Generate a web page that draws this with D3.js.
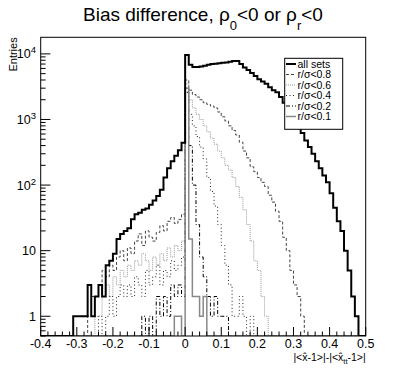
<!doctype html>
<html lang="en">
<head>
<meta charset="utf-8">
<title>Bias difference</title>
<style>
  body { margin: 0; background: #fff; }
  svg { display: block; font-family: "Liberation Sans", Arial, sans-serif; }
</style>
</head>
<body>
<div id="chart"></div>
<script src="https://cdn.jsdelivr.net/npm/d3@7/dist/d3.min.js"></script>
<script>
// 90 bins of width 0.01, first bin starts at -0.40
var binLow = -0.4;
var binWidth = 0.01;

var allSets = [0,0,0,0,0,0,0,0,0,
  1,1,1,1,3,1,2,3,2,6,7,9,15,18,20,22,30,36,38,42,44,50,58,68,85,130,180,230,280,340,440,
  9600,6800,6300,6300,6400,6600,6800,7000,7100,7200,7300,7400,7600,7800,7800,7000,6200,5700,5100,4600,
  4100,3800,3500,3100,2800,2600,2200,1800,1500,1200,950,750,620,480,380,300,230,180,140,110,
  75,45,28,20,10,5,2,1,0,0];

var r08 = [0,0,0,0,0,0,0,0,0,0,0,0,0,
  1,2,2,3,5,4,6,5,8,10,7,11,9,14,18,12,20,16,14,19,24,20,28,32,26,30,36,
  4000,2800,2400,2200,2000,1800,1700,1600,1500,1300,1100,950,800,680,580,450,330,260,190,160,
  130,110,95,70,55,40,28,16,10,5,3,2,1,
  0,0,0,0,0,0,0,0,0,0,0,0,0,0,0,0,0];

var r06 = [0,0,0,0,0,0,0,0,0,0,0,0,0,0,0,
  1,1,2,3,2,4,3,5,4,6,5,7,6,9,7,5,8,6,9,7,11,8,12,10,14,
  3500,2000,1500,1200,1000,800,650,520,420,330,260,200,170,130,95,65,42,25,14,7,5,2,1,
  0,0,0,0,0,0,0,0,0,0,0,0,0,0,0,0,0,0,0,0,0,0,0,0,0,0,0];

var r04 = [0,0,0,0,0,0,0,0,0,0,0,0,0,0,0,0,
  1,0,1,2,1,2,3,2,3,2,4,3,2,5,3,4,6,3,5,4,7,5,6,8,
  3000,1200,800,550,380,250,130,80,48,25,12,6,3,1,1,2,1,0,1,
  0,0,0,0,0,0,0,0,0,0,0,0,0,0,0,0,0,0,0,0,0,0,0,0,0,0,0,0,0,0,0];

var r02 = [0,0,0,0,0,0,0,0,0,0,0,0,0,0,0,0,0,0,0,0,0,0,0,0,0,0,0,0,
  1,0,1,0,2,1,2,1,3,2,3,2,
  2600,400,100,25,8,4,2,1,2,1,1,1,
  0,0,0,0,0,0,0,0,0,0,0,0,0,0,0,0,0,0,0,0,0,0,0,0,0,0,0,0,0,0,0,0,0,0,0,0,0,0];

var r01 = [0,0,0,0,0,0,0,0,0,0,0,0,0,0,0,0,0,0,0,0,0,0,0,0,0,0,0,0,0,0,0,0,0,0,0,0,0,
  1,1,0,3000,15,2,2,1,2,
  0,0,0,0,0,0,0,0,0,0,0,0,0,0,0,0,0,0,0,0,0,0,0,0,0,0,0,0,0,0,0,0,0,0,0,0,0,0,0,0,0,0,0,0];

var seriesNames = ["all sets", "r/\u03c3<0.8", "r/\u03c3<0.6", "r/\u03c3<0.4", "r/\u03c3<0.2", "r/\u03c3<0.1"];
var xTicks = [-0.4, -0.3, -0.2, -0.1, 0, 0.1, 0.2, 0.3, 0.4, 0.5];
var xTickLabels = ["-0.4", "-0.3", "-0.2", "-0.1", "0", "0.1", "0.2", "0.3", "0.4", "0.5"];
var yTicks = [1, 10, 100, 1000, 10000];

(function() {
  var width = 407, height = 374;
  var fLeft = 40.7, fRight = 365.7, fTop = 37.3, fBottom = 336;

  var x = d3.scaleLinear().domain([-0.4, 0.5]).range([fLeft, fRight]);
  var y = d3.scaleLog().domain([0.5, 17900]).range([fBottom, fTop]);

  var svg = d3.select("#chart").append("svg")
    .attr("width", width)
    .attr("height", height);

  svg.append("clipPath").attr("id", "frame")
    .append("rect")
    .attr("x", fLeft).attr("y", fTop)
    .attr("width", fRight - fLeft).attr("height", fBottom - fTop);

  // styles for each histogram, same order as seriesNames
  var styles = [
    { data: allSets, color: "#000", w: 2, dash: null },
    { data: r08, color: "#444", w: 1, dash: "3,2" },
    { data: r06, color: "#999", w: 1, dash: "1,1" },
    { data: r04, color: "#222", w: 1, dash: "1,2.5" },
    { data: r02, color: "#000", w: 1, dash: "4,2,1,2" },
    { data: r01, color: "#888", w: 1.5, dash: null }
  ];

  function histPath(vals) {
    var pts = [];
    vals.forEach(function(v, i) {
      var yv = y(Math.max(v, 0.5));
      pts.push([x(binLow + i * binWidth), yv]);
      pts.push([x(binLow + (i + 1) * binWidth), yv]);
    });
    return d3.line()(pts);
  }

  var plot = svg.append("g").attr("clip-path", "url(#frame)");
  // draw the sub selections first, all sets on top
  styles.slice(1).concat([styles[0]]).forEach(function(s) {
    plot.append("path")
      .attr("d", histPath(s.data))
      .attr("fill", "none")
      .attr("stroke", s.color)
      .attr("stroke-width", s.w)
      .attr("stroke-dasharray", s.dash);
  });

  // frame
  svg.append("rect")
    .attr("x", fLeft).attr("y", fTop)
    .attr("width", fRight - fLeft).attr("height", fBottom - fTop)
    .attr("fill", "none").attr("stroke", "#000");

  // x ticks, inside the frame
  var xMinor = d3.range(0, 46).map(function(i) { return -0.4 + i * 0.02; });
  svg.append("g").selectAll("line").data(xMinor).enter().append("line")
    .attr("x1", function(d) { return x(d); }).attr("x2", function(d) { return x(d); })
    .attr("y1", fBottom).attr("y2", function(d, i) { return i % 5 === 0 ? fBottom - 9 : fBottom - 4.5; })
    .attr("stroke", "#000");

  svg.append("g").selectAll("text").data(xTicks).enter().append("text")
    .attr("x", function(d) { return x(d); })
    .attr("y", 348)
    .attr("text-anchor", "middle")
    .attr("font-size", 12.5)
    .text(function(d, i) { return xTickLabels[i]; });

  // y ticks on a log axis
  var yMinor = [];
  [0.1, 1, 10, 100, 1000, 10000].forEach(function(dec) {
    for (var k = 1; k < 10; k++) {
      var v = dec * k;
      if (v >= 0.5 && v <= 17900) yMinor.push(v);
    }
  });
  svg.append("g").selectAll("line").data(yMinor).enter().append("line")
    .attr("x1", fLeft).attr("x2", function(d) { return yTicks.indexOf(d) >= 0 ? fLeft + 9.7 : fLeft + 4.9; })
    .attr("y1", function(d) { return y(d); }).attr("y2", function(d) { return y(d); })
    .attr("stroke", "#000");

  var yLab = svg.append("g").selectAll("text").data(yTicks).enter().append("text")
    .attr("x", 36)
    .attr("y", function(d) { return y(d) + 4.5; })
    .attr("text-anchor", "end")
    .attr("font-size", 12.5);
  yLab.each(function(d) {
    var t = d3.select(this);
    if (d < 100) { t.text(d); return; }
    t.append("tspan").text("10");
    t.append("tspan").attr("dy", -5).attr("font-size", 9.5).text(Math.round(Math.log10(d)));
  });

  // axis titles
  svg.append("text")
    .attr("transform", "translate(17," + fTop + ") rotate(-90)")
    .attr("text-anchor", "end")
    .attr("font-size", 11)
    .text("Entries");

  var xt = svg.append("text")
    .attr("x", fRight).attr("y", 361)
    .attr("text-anchor", "end")
    .attr("font-size", 10.5);
  xt.append("tspan").text("|<x\u0302-1>|-|<x\u0302");
  xt.append("tspan").attr("dy", 2.5).attr("font-size", 7.5).text("tt");
  xt.append("tspan").attr("dy", -2.5).text("-1>|");

  // title
  var title = svg.append("text")
    .attr("x", 203).attr("y", 21)
    .attr("text-anchor", "middle")
    .attr("font-size", 19);
  title.append("tspan").text("Bias difference, \u03c1");
  title.append("tspan").attr("dy", 9).attr("font-size", 13).text("0");
  title.append("tspan").attr("dy", -9).text("<0 or \u03c1");
  title.append("tspan").attr("dy", 9).attr("font-size", 13).text("r");
  title.append("tspan").attr("dy", -9).text("<0");

  // legend
  var lg = svg.append("g");
  lg.append("rect")
    .attr("x", 284.7).attr("y", 58.3).attr("width", 58).attr("height", 71)
    .attr("fill", "#fff").attr("stroke", "#000");
  var rows = lg.selectAll("g.row").data(styles).enter().append("g")
    .attr("transform", function(d, i) { return "translate(0," + (64 + i * 10.5) + ")"; });
  rows.append("line")
    .attr("x1", 286).attr("x2", 296).attr("y1", 0).attr("y2", 0)
    .attr("stroke", function(d) { return d.color; })
    .attr("stroke-width", function(d) { return d.w; })
    .attr("stroke-dasharray", function(d) { return d.dash; });
  rows.append("text")
    .attr("x", 297.5).attr("y", 3.7)
    .attr("font-size", 10.5)
    .text(function(d, i) { return seriesNames[i]; });
})();
</script>
</body>
</html>
